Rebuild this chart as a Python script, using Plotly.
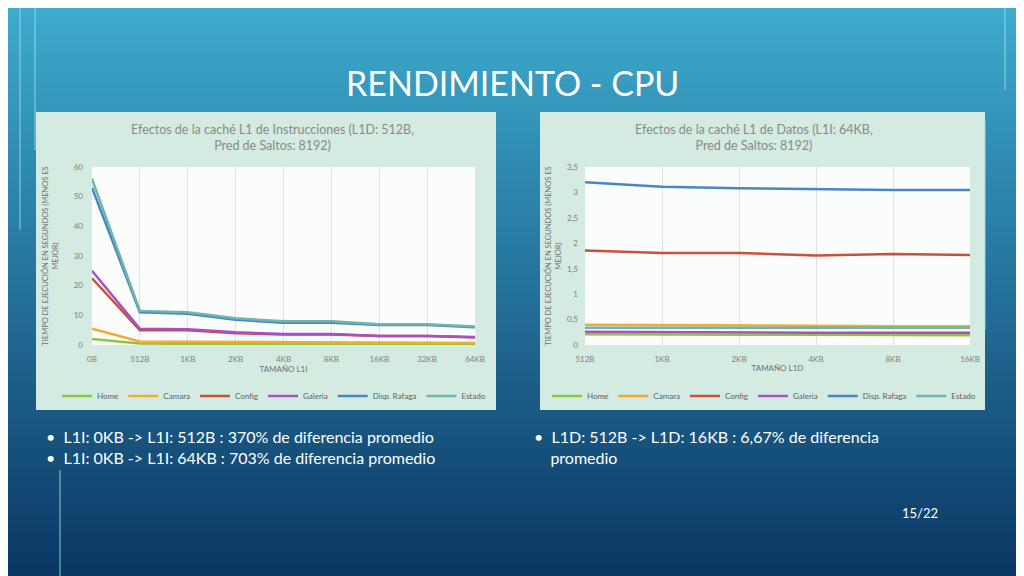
import plotly.graph_objects as go

series = ["Home", "Camara", "Config", "Galeria", "Disp. Rafaga", "Estado"]
colors = ["#8dc63f", "#f5a833", "#c9503a", "#a84fc4", "#4a86c5", "#6fb6a8"]

cats_i = ["0B", "512B", "1KB", "2KB", "4KB", "8KB", "16KB", "32KB", "64KB"]
vals_i = {
    "Home":         [2.0, 0.5, 0.4, 0.3, 0.3, 0.3, 0.2, 0.2, 0.2],
    "Camara":       [5.5, 1.2, 1.1, 1.0, 0.9, 0.9, 0.8, 0.8, 0.7],
    "Config":       [22.5, 5.0, 5.0, 4.0, 3.5, 3.5, 3.0, 3.0, 2.5],
    "Galeria":      [25.0, 5.5, 5.3, 4.3, 3.7, 3.7, 3.0, 3.0, 2.7],
    "Disp. Rafaga": [53.0, 11.0, 10.5, 8.5, 7.5, 7.5, 6.7, 6.7, 6.0],
    "Estado":       [56.0, 11.5, 11.0, 9.0, 8.0, 8.0, 7.0, 7.0, 6.2],
}

cats_d = ["512B", "1KB", "2KB", "4KB", "8KB", "16KB"]
vals_d = {
    "Home":         [0.21, 0.20, 0.20, 0.20, 0.19, 0.19],
    "Camara":       [0.40, 0.39, 0.38, 0.38, 0.37, 0.37],
    "Config":       [1.86, 1.81, 1.81, 1.76, 1.79, 1.77],
    "Galeria":      [0.26, 0.25, 0.25, 0.24, 0.24, 0.24],
    "Disp. Rafaga": [3.20, 3.11, 3.08, 3.06, 3.05, 3.05],
    "Estado":       [0.34, 0.34, 0.34, 0.34, 0.34, 0.34],
}

OFF = 8  # page body margin compensation
def px(x): return (x - OFF) / 1024
def py(y): return 1 - (y - OFF) / 576

fig = go.Figure()
for s, c in zip(series, colors):
    fig.add_trace(go.Scatter(x=cats_i, y=vals_i[s], name=s, mode="lines",
                             line=dict(color=c, width=2.5), xaxis="x", yaxis="y", legend="legend"))
for s, c in zip(series, colors):
    fig.add_trace(go.Scatter(x=cats_d, y=vals_d[s], name=s, mode="lines",
                             line=dict(color=c, width=2.5), xaxis="x2", yaxis="y2", legend="legend2"))

shapes = []
N = 60
top = (62, 170, 205)
bot = (10, 55, 100)
for i in range(N):
    t = i / (N - 1)
    col = tuple(int(top[k] + (bot[k] - top[k]) * t) for k in range(3))
    shapes.append(dict(type="rect", xref="paper", yref="paper", x0=-0.02, x1=1.02,
                       y0=1 - (i + 1) / N - 0.002, y1=1 - i / N + 0.002, layer="below",
                       line=dict(width=0), fillcolor="rgb(%d,%d,%d)" % col))
for x0, x1, p0, p1 in [(36, 496, 92, 475), (540, 985, 585, 970)]:
    shapes.append(dict(type="rect", xref="paper", yref="paper", x0=px(x0), x1=px(x1),
                       y0=py(410), y1=py(112), layer="below",
                       line=dict(width=0), fillcolor="#d3ebe0"))
    shapes.append(dict(type="rect", xref="paper", yref="paper", x0=px(p0), x1=px(p1),
                       y0=py(345), y1=py(167), layer="below",
                       line=dict(width=0), fillcolor="#fbfdfc"))
for (xa, ya, xb, yb) in [(20, 0, 20, 230), (35, 0, 35, 150), (1005, 0, 1005, 90), (985, 120, 985, 330), (60, 470, 60, 576)]:
    shapes.append(dict(type="line", xref="paper", yref="paper", x0=px(xa), x1=px(xb), y0=py(ya), y1=py(yb),
                       layer="below", line=dict(color="rgba(150,220,240,0.45)", width=2)))

gfont = dict(family="Lato, sans-serif", color="#808080", size=8)
ax_common = dict(showgrid=True, gridcolor="#e0e0e0", zeroline=False, showline=False,
                 tickfont=gfont, ticks="", ticklabelstandoff=8)
ytext = "TIEMPO DE EJECUCIÓN EN SEGUNDOS (MENOS ES<br>MEJOR)"
yfont = dict(family="Lato", color="#707070", size=7.5)

fig.update_layout(
    width=1024, height=576, margin=dict(l=0, r=0, t=0, b=0, autoexpand=False),
    paper_bgcolor="#1f6f9c", plot_bgcolor="rgba(0,0,0,0)", shapes=shapes,
    xaxis=dict(domain=[px(92), px(475)], anchor="y", type="category",
               title=dict(text="TAMAÑO L1I", font=dict(family="Lato", color="#707070", size=8), standoff=2), **ax_common),
    yaxis=dict(domain=[py(345), py(167)], anchor="x", range=[0, 60], dtick=10, showgrid=False,
               zeroline=False, tickfont=gfont, title=dict(text=ytext, font=yfont, standoff=14), ticklabelstandoff=8),
    xaxis2=dict(domain=[px(585), px(970)], anchor="y2", type="category",
                title=dict(text="TAMAÑO L1D", font=dict(family="Lato", color="#707070", size=8), standoff=2), **ax_common),
    yaxis2=dict(domain=[py(345), py(167)], anchor="x2", range=[0, 3.5], dtick=0.5, showgrid=False,
                zeroline=False, tickfont=gfont, tickformat="~g", title=dict(text=ytext, font=yfont, standoff=4),
                ticklabelstandoff=6),
    separators=",.",
    legend=dict(orientation="h", x=px(274), xanchor="center", y=py(396), yanchor="middle",
                font=dict(family="Lato", color="#606060", size=8), bgcolor="rgba(0,0,0,0)"),
    legend2=dict(orientation="h", x=px(764), xanchor="center", y=py(396), yanchor="middle",
                 font=dict(family="Lato", color="#606060", size=8), bgcolor="rgba(0,0,0,0)"),
    annotations=[
        dict(text="RENDIMIENTO - CPU", x=px(512), y=py(82), xref="paper", yref="paper", showarrow=False,
             xanchor="center", yanchor="middle", font=dict(family="Lato", size=34, color="white")),
        dict(text="Efectos de la caché L1 de Instrucciones (L1D: 512B,<br>Pred de Saltos: 8192)", x=px(272), y=py(137),
             xanchor="center", yanchor="middle",
             xref="paper", yref="paper", showarrow=False, font=dict(family="Lato", size=12.5, color="#8a8a8a")),
        dict(text="Efectos de la caché L1 de Datos (L1I: 64KB,<br>Pred de Saltos: 8192)", x=px(754), y=py(137),
             xanchor="center", yanchor="middle",
             xref="paper", yref="paper", showarrow=False, font=dict(family="Lato", size=12.5, color="#8a8a8a")),
        dict(text="•  L1I: 0KB -> L1I: 512B : 370% de diferencia promedio<br>•  L1I: 0KB -> L1I: 64KB : 703% de diferencia promedio",
             x=px(44), y=py(447), xref="paper", yref="paper", xanchor="left", yanchor="middle", align="left", showarrow=False,
             font=dict(family="Lato", size=16, color="white")),
        dict(text="•  L1D: 512B -> L1D: 16KB : 6,67% de diferencia<br>    promedio",
             x=px(532), y=py(447), xref="paper", yref="paper", xanchor="left", yanchor="middle", align="left", showarrow=False,
             font=dict(family="Lato", size=16, color="white")),
        dict(text="15/22", x=px(920), y=py(513), xref="paper", yref="paper", showarrow=False,
             xanchor="center", yanchor="middle", font=dict(family="Lato", size=13, color="white")),
    ],
)
fig.write_html("out.html")
